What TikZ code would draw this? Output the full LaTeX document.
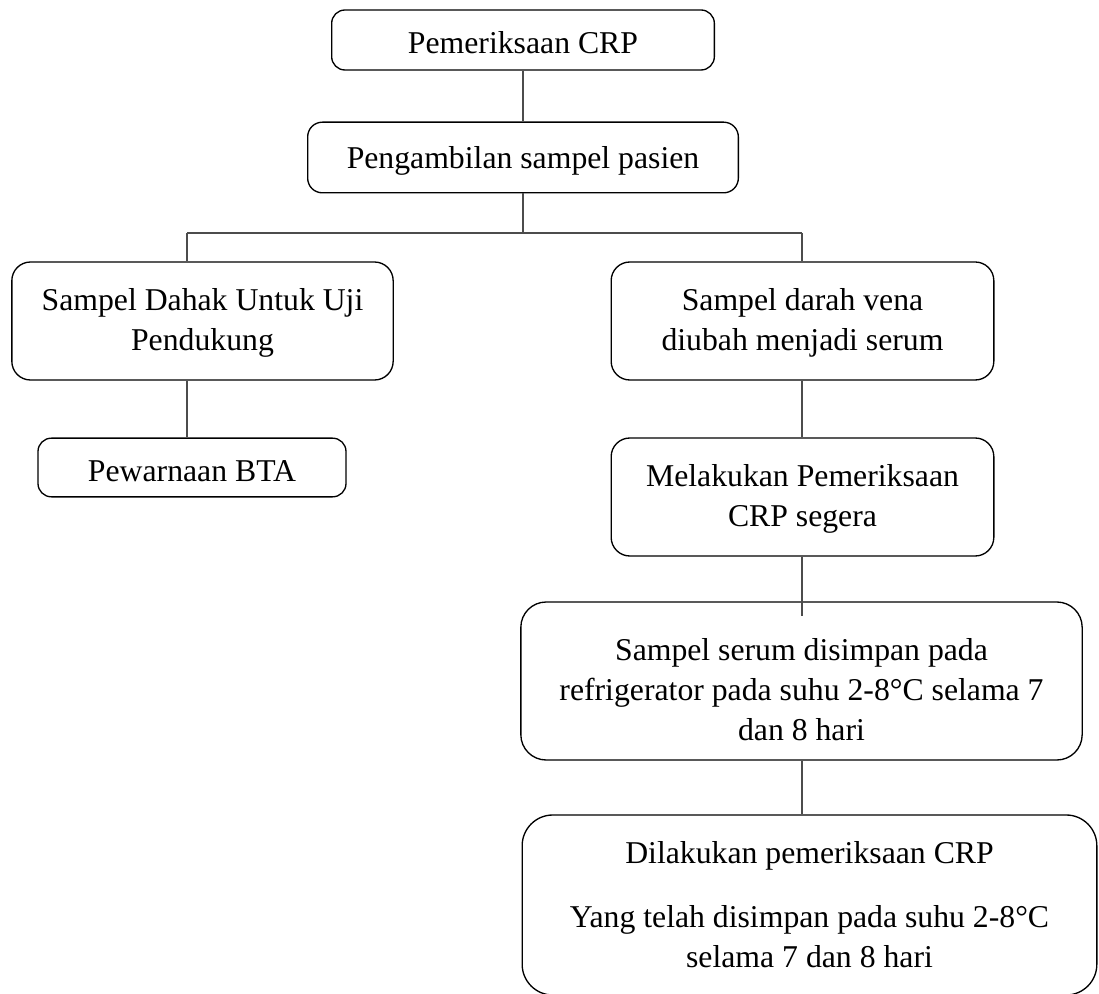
\documentclass[tikz,border=0pt]{standalone}
\usepackage{fontspec}
\setmainfont{Liberation Serif}
\usepackage{tikz}

\begin{document}
\begin{tikzpicture}[x=0.75pt, y=-0.75pt,
  font=\fontsize{23.8}{30}\selectfont,
  box/.style={draw, line width=1pt, rounded corners=#1, align=center, inner sep=0pt},
  box/.default=10pt,
  turun/.style={execute at begin node={\rule{0pt}{#1}}},
  link/.style={draw=black!70, line width=0.8pt}]

  \useasboundingbox (0,0) rectangle (1099,994);

  % kotak utama
  \node[box, turun=21pt, minimum width=287pt, minimum height=45pt]
    (periksa) at (523,40) {Pemeriksaan CRP};
  \node[box=11pt, turun=21pt, minimum width=323pt, minimum height=53pt]
    (ambil) at (523,157.5) {Pengambilan sampel pasien};

  % cabang kiri
  \node[box=14pt, turun=50pt, minimum width=286pt, minimum height=88.5pt]
    (dahak) at (202.5,321) {Sampel Dahak Untuk Uji\\Pendukung};
  \node[box, turun=21pt, minimum width=231pt, minimum height=44pt]
    (bta) at (192,467.5) {Pewarnaan BTA};

  % cabang kanan
  \node[box=14pt, turun=50pt, minimum width=287pt, minimum height=88.5pt]
    (darah) at (802.5,321) {Sampel darah vena\\diubah menjadi serum};
  \node[box=14pt, turun=50pt, minimum width=287pt, minimum height=88.5pt]
    (segera) at (802.5,497) {Melakukan Pemeriksaan\\CRP segera};
  \node[box=19pt, turun=90pt, minimum width=421pt, minimum height=118.5pt]
    (simpan) at (801.5,681)
    {Sampel serum disimpan pada\\refrigerator pada suhu 2-8°C selama 7\\dan 8 hari};
  \node[box=23pt, minimum width=431pt, minimum height=135pt]
    (ulang) at (809.5,905)
    {Dilakukan pemeriksaan CRP\\[18pt]Yang telah disimpan pada suhu 2-8°C\\selama 7 dan 8 hari};

  % titik percabangan
  \coordinate (cabangL) at (187,233);
  \coordinate (cabangR) at (802,233);

  % garis penghubung
  \draw[link] (periksa.south) -- (ambil.north);
  \draw[link] (ambil.south) -- (ambil.south |- cabangL);
  \draw[link] (cabangL) -- (cabangR);
  \draw[link] (cabangL) -- (cabangL |- dahak.north);
  \draw[link] (cabangR) -- (cabangR |- darah.north);
  \draw[link] (dahak.south -| cabangL) -- (cabangL |- bta.north);
  \draw[link] (darah.south -| cabangR) -- (cabangR |- segera.north);
  \draw[link] (segera.south -| cabangR) -- ([yshift=-11pt]cabangR |- simpan.north);
  \draw[link] (simpan.south -| cabangR) -- (cabangR |- ulang.north);

\end{tikzpicture}
\end{document}
